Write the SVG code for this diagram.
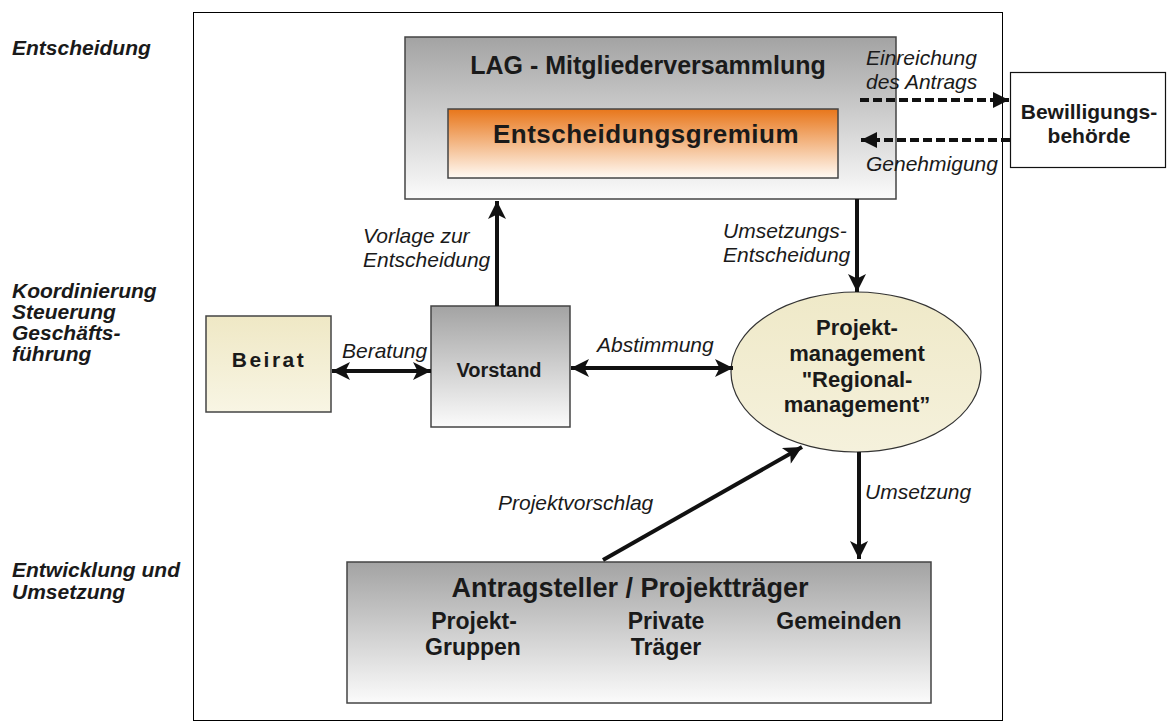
<svg xmlns="http://www.w3.org/2000/svg" width="1173" height="727" viewBox="0 0 1173 727">
<style>
.lbl{font-family:"Liberation Sans",Arial,sans-serif;font-style:italic;font-size:21px;fill:#1a1a1a}
.side{font-family:"Liberation Sans",Arial,sans-serif;font-style:italic;font-weight:bold;font-size:21px;fill:#1a1a1a}
.b{font-family:"Liberation Sans",Arial,sans-serif;font-weight:bold;fill:#1a1a1a;text-anchor:middle}
.box{stroke:#444;stroke-width:1.5}
.con{stroke:#111;stroke-width:4;fill:none}
.dash{stroke:#111;stroke-width:4;fill:none;stroke-dasharray:9 4}
</style>
<defs>
<linearGradient id="gray" x1="0" y1="0" x2="0" y2="1"><stop offset="0" stop-color="#a3a3a3"/><stop offset="1" stop-color="#fbfbfb"/></linearGradient>
<linearGradient id="orange" x1="0" y1="0" x2="0" y2="1"><stop offset="0" stop-color="#e8761a"/><stop offset="1" stop-color="#fffaf4"/></linearGradient>
<linearGradient id="cream" x1="0" y1="0" x2="0" y2="1"><stop offset="0" stop-color="#efe8c5"/><stop offset="1" stop-color="#f8f5e4"/></linearGradient>
<linearGradient id="ell" x1="0" y1="0" x2="0" y2="1"><stop offset="0" stop-color="#efe9c8"/><stop offset="1" stop-color="#f5f1dc"/></linearGradient>
<marker id="ah" viewBox="0 0 10 10" refX="10" refY="5" markerWidth="5.5" markerHeight="4.5" markerUnits="strokeWidth" orient="auto-start-reverse"><path d="M0,0 L10,5 L0,10 L2.5,5 z" fill="#111"/></marker>
<marker id="ahd" viewBox="0 0 10 10" refX="10" refY="5" markerWidth="4.5" markerHeight="4" markerUnits="strokeWidth" orient="auto"><path d="M0,0 L10,5 L0,10 z" fill="#111"/></marker>
</defs>
<rect x="0" y="0" width="1173" height="727" fill="#fff"/>
<rect id="frame" x="193.5" y="12.5" width="809" height="708" fill="none" stroke="#000" stroke-width="1"/>

<g id="side-labels">
<text class="side" x="12" y="55">Entscheidung</text>
<text class="side" x="12" y="298">Koordinierung</text>
<text class="side" x="12" y="319">Steuerung</text>
<text class="side" x="12" y="340">Geschäfts-</text>
<text class="side" x="12" y="361">führung</text>
<text class="side" x="12" y="577">Entwicklung und</text>
<text class="side" x="12" y="599">Umsetzung</text>
</g>

<g id="lag">
<rect class="box" x="405" y="37" width="491" height="162" fill="url(#gray)"/>
<text class="b" x="648" y="74" font-size="25">LAG - Mitgliederversammlung</text>
</g>
<g id="gremium">
<rect class="box" x="448" y="109" width="390" height="69" fill="url(#orange)"/>
<text class="b" x="646" y="143" font-size="26" letter-spacing="0.5">Entscheidungsgremium</text>
</g>
<g id="behoerde">
<rect x="1010.5" y="72.5" width="155" height="95" fill="#fff" stroke="#111" stroke-width="1.2"/>
<text class="b" x="1089" y="119" font-size="21">Bewilligungs-</text>
<text class="b" x="1089" y="143" font-size="21">behörde</text>
</g>
<g id="beirat">
<rect class="box" x="206" y="316" width="125" height="96" fill="url(#cream)"/>
<text class="b" x="269" y="367" font-size="21" letter-spacing="2.5">Beirat</text>
</g>
<g id="vorstand">
<rect class="box" x="431" y="306" width="139" height="121" fill="url(#gray)"/>
<text class="b" x="499" y="377" font-size="20">Vorstand</text>
</g>
<g id="projektmanagement">
<ellipse cx="856" cy="372" rx="125" ry="80" fill="url(#ell)" stroke="#333" stroke-width="1.2"/>
<text class="b" x="857" y="335" font-size="22">Projekt-</text>
<text class="b" x="857" y="361" font-size="22">management</text>
<text class="b" x="857" y="387" font-size="22">"Regional-</text>
<text class="b" x="857" y="412" font-size="22">management”</text>
</g>
<g id="antragsteller">
<rect class="box" x="347" y="562" width="584" height="141" fill="url(#gray)"/>
<text class="b" x="630" y="597" font-size="27">Antragsteller / Projektträger</text>
<text class="b" x="474" y="629" font-size="23">Projekt-</text>
<text class="b" x="473" y="655" font-size="23">Gruppen</text>
<text class="b" x="666" y="629" font-size="23">Private</text>
<text class="b" x="666" y="655" font-size="23">Träger</text>
<text class="b" x="839" y="629" font-size="23">Gemeinden</text>
</g>

<g id="connectors">
<line class="con" x1="497" y1="306" x2="497" y2="201" marker-end="url(#ah)"/>
<line class="con" x1="857" y1="199" x2="857" y2="292" marker-end="url(#ah)"/>
<line class="con" x1="332" y1="371" x2="431" y2="371" marker-start="url(#ah)" marker-end="url(#ah)"/>
<line class="con" x1="571" y1="368" x2="733" y2="368" marker-start="url(#ah)" marker-end="url(#ah)"/>
<line class="con" x1="603" y1="560" x2="802" y2="447" marker-end="url(#ah)"/>
<line class="con" x1="859" y1="452" x2="859" y2="559" marker-end="url(#ah)"/>
<line class="dash" x1="860" y1="100" x2="1009" y2="100" marker-end="url(#ahd)"/>
<line class="dash" x1="1010" y1="140" x2="861" y2="140" marker-end="url(#ahd)"/>
</g>

<g id="connector-labels">
<text class="lbl" x="866" y="65">Einreichung</text>
<text class="lbl" x="866" y="89">des Antrags</text>
<text class="lbl" x="866" y="171">Genehmigung</text>
<text class="lbl" x="363" y="243">Vorlage zur</text>
<text class="lbl" x="363" y="267">Entscheidung</text>
<text class="lbl" x="723" y="238">Umsetzungs-</text>
<text class="lbl" x="723" y="262">Entscheidung</text>
<text class="lbl" x="342" y="358">Beratung</text>
<text class="lbl" x="597" y="352">Abstimmung</text>
<text class="lbl" x="498" y="510">Projektvorschlag</text>
<text class="lbl" x="865" y="499">Umsetzung</text>
</g>
</svg>
